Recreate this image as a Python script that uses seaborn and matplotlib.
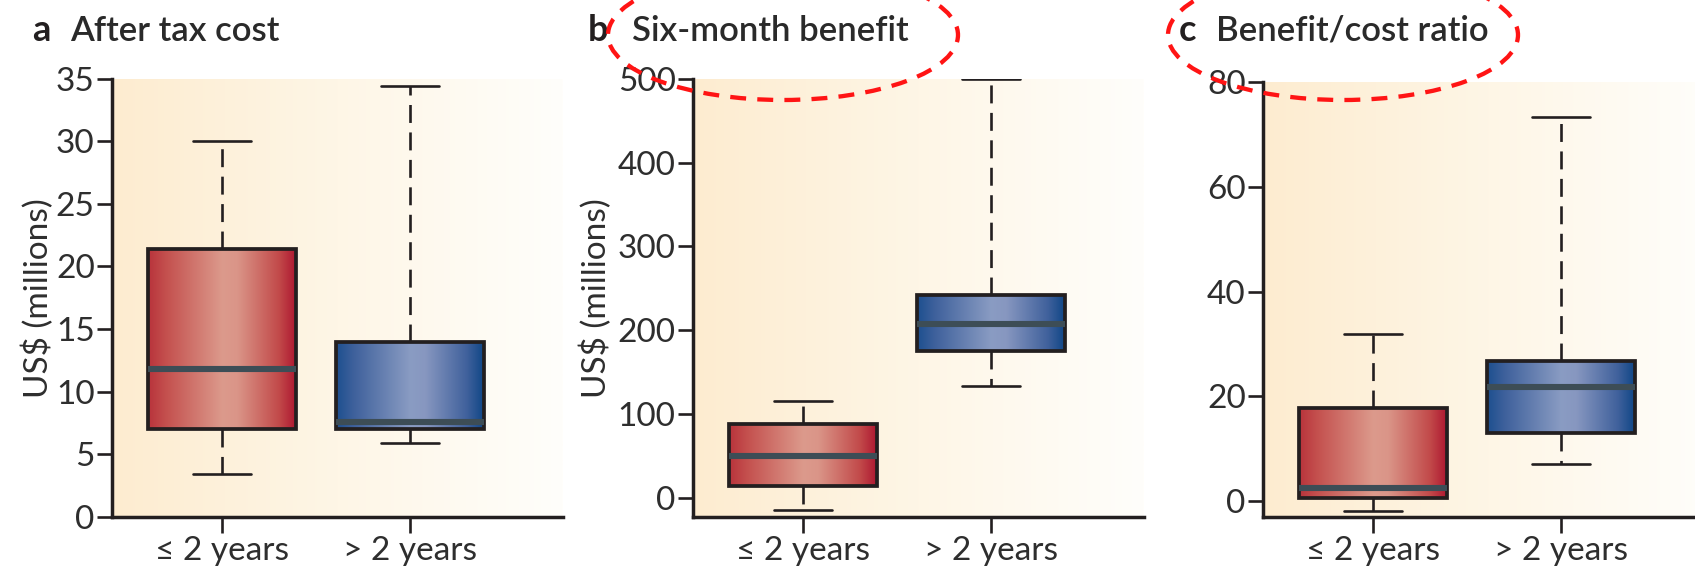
import numpy as np
import pandas as pd
import matplotlib
matplotlib.use("Agg")
import matplotlib.pyplot as plt
from matplotlib.colors import LinearSegmentedColormap
from matplotlib.patches import Ellipse, PathPatch
import seaborn as sns

# ---------------- data (min, Q1, median, Q3, max) ----------------
categories = ["\u2264 2 years", "> 2 years"]
cost_short = [3.4, 7.0, 11.8, 21.4, 30.0]
cost_long = [5.9, 7.0, 7.6, 14.0, 34.4]
benefit_short = [-15, 14, 50, 88, 116]
benefit_long = [134, 175, 207, 242, 500]
ratio_short = [-1.9, 0.6, 2.6, 17.8, 32.0]
ratio_long = [7.1, 13.1, 21.8, 26.8, 73.3]

panel_letters = ["a", "b", "c"]
panel_titles = ["After tax cost", "Six-month benefit", "Benefit/cost ratio"]
y_label = "US$ (millions)"
y_ticks = [[0, 5, 10, 15, 20, 25, 30, 35], [0, 100, 200, 300, 400, 500], [0, 20, 40, 60, 80]]
y_limits = [(0, 35), (-23, 500), (-3, 80)]

# ---------------- style ----------------
sns.set_theme(style="white")
plt.rcParams["font.family"] = ["Lato", "DejaVu Sans"]
INK = "#231f20"

W, H = 1695, 579
fig = plt.figure(figsize=(W / 100, H / 100), dpi=100)

red_cmap = LinearSegmentedColormap.from_list(
    "red", [(0, "#b8333b"), (0.12, "#c4504e"), (0.5, "#dc9a8c"), (0.6, "#da9588"),
            (0.88, "#c24a4a"), (1, "#ad1530")])
blue_cmap = LinearSegmentedColormap.from_list(
    "blue", [(0, "#1d4f8f"), (0.12, "#3f619c"), (0.5, "#8a9cc3"), (0.6, "#8797c0"),
             (0.88, "#40619c"), (1, "#0d4585")])
bg_cmap = LinearSegmentedColormap.from_list("bg", ["#fdecd0", "#fef6e6", "#fffefb"])

panels = [
    (cost_short, cost_long),
    (benefit_short, benefit_long),
    (ratio_short, ratio_long),
]

ax_left_px = [112, 693, 1263]
ax_top_px = [78.6, 79, 82]
ax_bottom_px = 517
ax_width_px = 451

grad = np.linspace(0, 1, 256)[None, :]

for i, (short_vals, long_vals) in enumerate(panels):
    left = ax_left_px[i] / W
    bottom = 1 - ax_bottom_px / H
    height = (ax_bottom_px - ax_top_px[i]) / H
    ax = fig.add_axes([left, bottom, ax_width_px / W, height])

    df = pd.DataFrame({
        "group": [categories[0]] * len(short_vals) + [categories[1]] * len(long_vals),
        "value": list(short_vals) + list(long_vals),
    })
    sns.boxplot(
        data=df, x="group", y="value", order=categories, ax=ax,
        whis=(0, 100), width=0.79, fill=True, color="white",
        linecolor=INK, linewidth=2.2,
        boxprops=dict(linewidth=2.7, edgecolor=INK, zorder=2),
        medianprops=dict(color="#3d4d56", linewidth=4.4, zorder=3, solid_capstyle="butt"),
        whiskerprops=dict(color=INK, linewidth=1.9, linestyle=(0, (6.8, 3.6))),
        capprops=dict(color=INK, linewidth=1.9),
        capwidths=0.31,
    )

    # gradient fills clipped to the box shapes
    boxes = [p for p in ax.patches if isinstance(p, PathPatch)]
    for j, patch in enumerate(boxes):
        ext = patch.get_path().get_extents()
        cmap = red_cmap if j == 0 else blue_cmap
        im = ax.imshow(grad, extent=(ext.x0, ext.x1, ext.y0, ext.y1), aspect="auto",
                       cmap=cmap, zorder=1.5, interpolation="bilinear")
        im.set_clip_path(patch)
        patch.set_facecolor("none")

    # axes background gradient
    ax.imshow(grad, extent=(0, 1, 0, 1), transform=ax.transAxes, aspect="auto",
              cmap=bg_cmap, zorder=0, interpolation="bilinear")

    ax.set_xlim(-0.585, 1.815)
    ax.set_ylim(*y_limits[i])
    ax.set_yticks(y_ticks[i])
    ax.set_xlabel("")
    ax.set_ylabel("")

    for s in ["top", "right"]:
        ax.spines[s].set_visible(False)
    for s in ["left", "bottom"]:
        ax.spines[s].set_linewidth(2.5)
        ax.spines[s].set_color(INK)
    ax.tick_params(axis="both", direction="out", length=10.5, width=1.9, color=INK,
                   labelsize=24, labelcolor="#2e2e2e", pad=2,
                   left=True, bottom=True)
    ax.tick_params(axis="x", length=11.5)

    if i < 2:
        ax.set_ylabel(y_label, fontsize=24, color="#2e2e2e")
        ax.yaxis.set_label_coords([-0.129, -0.18][i], 0.5)

# panel titles
title_pos = [(32, 70), (588, 632), (1179, 1216)]
for i in range(3):
    lx, tx = title_pos[i]
    fig.text(lx / W, 1 - 41 / H, panel_letters[i], fontsize=26, fontweight="bold",
             color=INK, va="baseline", ha="left")
    fig.text(tx / W, 1 - 41 / H, panel_titles[i], fontsize=25, fontweight=600,
             color="#2a2a2a", va="baseline", ha="left")

# red dashed annotation ellipses around titles b and c
ov = fig.add_axes([0, 0, 1, 1], zorder=10)
ov.set_xlim(0, W)
ov.set_ylim(H, 0)
ov.axis("off")
ov.patch.set_alpha(0)
for cx in [783, 1343]:
    ov.add_patch(Ellipse((cx, 35), 350, 130, fill=False, edgecolor="#ff1414",
                         linewidth=3.1, linestyle=(0, (3.7, 2.6)), clip_on=False))

fig.savefig("out.png", dpi=100)
